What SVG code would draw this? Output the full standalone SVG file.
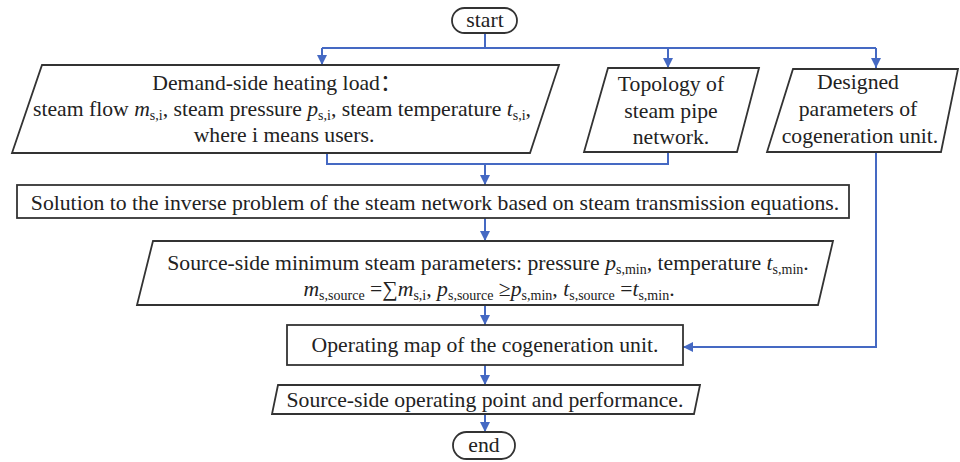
<svg xmlns="http://www.w3.org/2000/svg" width="960" height="462" viewBox="0 0 960 462">
<style>
.box{fill:#fff;stroke:#333;stroke-width:1.8}
text{font-family:'Liberation Serif','DejaVu Serif',serif;font-size:21.7px;fill:#222;text-anchor:middle}
.i{font-style:italic}
.s{font-size:14px}
.cjk{font-family:'Noto Sans CJK SC',sans-serif}
.c{fill:none;stroke:#4569c3;stroke-width:2}
</style>
<defs>
<marker id="ah" viewBox="0 0 10 10" refX="10" refY="5" markerWidth="5" markerHeight="5" orient="auto" markerUnits="strokeWidth">
<path d="M0,0 L10,5 L0,10 z" fill="#4569c3"/>
</marker>
</defs>
<g id="connectors">
<path class="c" d="M485,33 V48"/>
<path class="c" d="M322,48 H876"/>
<path class="c" d="M322,48 V65" marker-end="url(#ah)"/>
<path class="c" d="M668,48 V68" marker-end="url(#ah)"/>
<path class="c" d="M876,48 V68" marker-end="url(#ah)"/>
<path class="c" d="M327,153 V164 H668 V152"/>
<path class="c" d="M485,164 V185" marker-end="url(#ah)"/>
<path class="c" d="M485,218 V241" marker-end="url(#ah)"/>
<path class="c" d="M485,305 V325" marker-end="url(#ah)"/>
<path class="c" d="M876,152 V347 H683" marker-end="url(#ah)"/>
<path class="c" d="M485,365 V385" marker-end="url(#ah)"/>
<path class="c" d="M485,414 V432" marker-end="url(#ah)"/>
</g>
<g id="start">
<rect class="box" x="452" y="8" width="65" height="25" rx="12.5"/>
<text x="485" y="27">start</text>
</g>
<g id="demand">
<path class="box" d="M42,65 H559 L530,153 H12 Z"/>
<text x="277" y="90">Demand-side heating load<tspan class="cjk">：</tspan></text>
<text x="282" y="116">steam flow <tspan class="i">m</tspan><tspan class="s" dy="4">s,i</tspan><tspan dy="-4">, steam pressure </tspan><tspan class="i">p</tspan><tspan class="s" dy="4">s,i</tspan><tspan dy="-4">, steam temperature </tspan><tspan class="i">t</tspan><tspan class="s" dy="4">s,i</tspan><tspan dy="-4">,</tspan></text>
<text x="284" y="142">where i means users.</text>
</g>
<g id="topology">
<path class="box" d="M608,68 H759 L737,152 H584 Z"/>
<text x="671" y="91">Topology of</text>
<text x="671" y="118">steam pipe</text>
<text x="671" y="144">network.</text>
</g>
<g id="designed">
<path class="box" d="M793,69 H958 L941,152 H767 Z"/>
<text x="858" y="89">Designed</text>
<text x="858" y="116">parameters of</text>
<text x="860" y="143">cogeneration unit.</text>
</g>
<g id="solution">
<rect class="box" x="17" y="185" width="832" height="33"/>
<text x="435" y="210">Solution to the inverse problem of the steam network based on steam transmission equations.</text>
</g>
<g id="source-min">
<path class="box" d="M153,241 H833 L818,305 H137 Z"/>
<text x="488" y="270">Source-side minimum steam parameters: pressure <tspan class="i">p</tspan><tspan class="s" dy="4">s,min</tspan><tspan dy="-4">, temperature </tspan><tspan class="i">t</tspan><tspan class="s" dy="4">s,min</tspan><tspan dy="-4">.</tspan></text>
<text x="489" y="296"><tspan class="i">m</tspan><tspan class="s" dy="4">s,source</tspan><tspan dy="-4"> =∑</tspan><tspan class="i">m</tspan><tspan class="s" dy="4">s,i</tspan><tspan dy="-4">, </tspan><tspan class="i">p</tspan><tspan class="s" dy="4">s,source</tspan><tspan dy="-4"> ≥</tspan><tspan class="i">p</tspan><tspan class="s" dy="4">s,min</tspan><tspan dy="-4">, </tspan><tspan class="i">t</tspan><tspan class="s" dy="4">s,source</tspan><tspan dy="-4"> =</tspan><tspan class="i">t</tspan><tspan class="s" dy="4">s,min</tspan><tspan dy="-4">.</tspan></text>
</g>
<g id="operating-map">
<rect class="box" x="287" y="325" width="396" height="40"/>
<text x="485" y="352">Operating map of the cogeneration unit.</text>
</g>
<g id="operating-point">
<path class="box" d="M278,385 H700 L694,414 H272 Z"/>
<text x="485" y="407">Source-side operating point and performance.</text>
</g>
<g id="end">
<rect class="box" x="453" y="432" width="62" height="27" rx="13.5"/>
<text x="484" y="452">end</text>
</g>
</svg>
